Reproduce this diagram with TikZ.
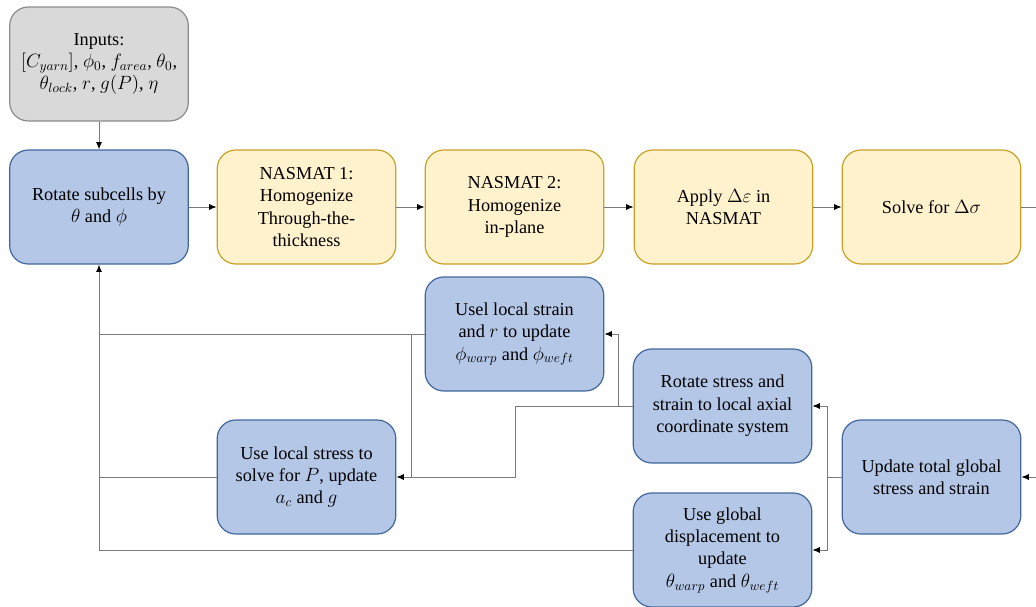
\documentclass[tikz,border=0pt]{standalone}
\usepackage{fontspec}
\setmainfont{Liberation Serif}
\usetikzlibrary{arrows.meta}
\definecolor{bluefill}{HTML}{B4C7E7}
\definecolor{blueline}{HTML}{41679C}
\definecolor{yellowfill}{HTML}{FFF2CC}
\definecolor{yellowline}{HTML}{C9A227}
\definecolor{grayfill}{HTML}{D9D9D9}
\definecolor{grayline}{HTML}{8C8C8C}
\definecolor{linegray}{HTML}{7A7A7A}
\begin{document}
\begin{tikzpicture}[x=0.75pt,y=-0.75pt,
  every node/.style={font=\fontsize{13.7}{16.8}\selectfont, align=center},
  box/.style={draw, rounded corners=14pt, line width=0.9pt, minimum width=134pt, minimum height=85.5pt, inner sep=2pt},
  bluebox/.style={box, draw=blueline, fill=bluefill},
  yellowbox/.style={box, draw=yellowline, fill=yellowfill},
  graybox/.style={box, draw=grayline, fill=grayfill},
  link/.style={draw=linegray, line width=0.7pt},
  arr/.style={link, -{Latex[length=5.5pt,width=4.5pt,black]}}]
\useasboundingbox (0,0) rectangle (1036,607);
% top row
\node[graybox] (inputs) at (99,64) {Inputs:\\ $[C_{yarn}]$, $\phi_0$, $f_{area}$, $\theta_0$,\\ $\theta_{lock}$, $r$, $g(P)$, $\eta$};
\node[bluebox] (rotate) at (99,207) {Rotate subcells by\\ $\theta$ and $\phi$};
\node[yellowbox] (nasmat1) at (306.5,207) {NASMAT 1:\\ Homogenize\\ Through-the-\\ thickness};
\node[yellowbox] (nasmat2) at (514.5,207) {NASMAT 2:\\ Homogenize\\ in-plane};
\node[yellowbox] (apply) at (723.5,207) {Apply $\Delta\varepsilon$ in\\ NASMAT};
\node[yellowbox] (solve) at (931.5,207) {Solve for $\Delta\sigma$};
% lower loop
\node[bluebox] (strain) at (514.5,334) {Usel local strain\\ and $r$ to update\\ $\phi_{warp}$ and $\phi_{weft}$};
\node[bluebox] (rotstress) at (722.5,406) {Rotate stress and\\ strain to local axial\\ coordinate system};
\node[bluebox] (stress) at (306.5,477) {Use local stress to\\ solve for $P$, update\\ $a_c$ and $g$};
\node[bluebox] (total) at (931.5,477) {Update total global\\ stress and strain};
\node[bluebox] (displ) at (722.5,550) {Use global\\ displacement to\\ update\\ $\theta_{warp}$ and $\theta_{weft}$};
% free ends and junctions
\coordinate (outR) at (1036,207);
\coordinate (inR) at (1036,477);
\coordinate (jTotal) at (827,477);
\coordinate (jRot) at (618,406);
\coordinate (jMid) at (515,406);
\coordinate (jStrain) at (411,334);
% connectors
\draw[arr] (inputs) -- (rotate);
\draw[arr] (rotate) -- (nasmat1);
\draw[arr] (nasmat1) -- (nasmat2);
\draw[arr] (nasmat2) -- (apply);
\draw[arr] (apply) -- (solve);
\draw[link] (solve) -- (outR);
\draw[arr] (inR) -- (total);
\draw[link] (total) -- (jTotal);
\draw[arr] (jTotal) |- (rotstress);
\draw[arr] (jTotal) |- (displ);
\draw[link] (rotstress) -- (jRot);
\draw[arr] (jRot) |- (strain);
\draw[arr] (jRot) -- (jMid) |- (stress);
\draw[link] (strain) -- (strain -| rotate);
\draw[link] (jStrain) -- (jStrain |- stress);
\draw[link] (stress) -- (stress -| rotate);
\draw[arr] (displ) -| (rotate);
\end{tikzpicture}
\end{document}
